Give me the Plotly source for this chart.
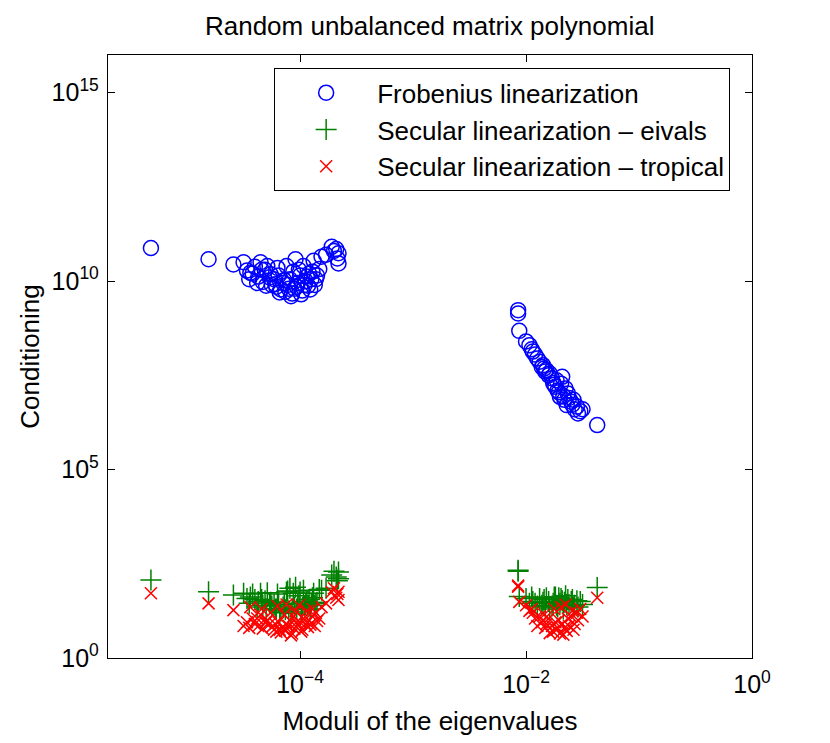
import plotly.graph_objects as go

# log10 of eigenvalue moduli (shared by the three series)
log_moduli = [
    # small eigenvalues
    -5.32, -4.81, -4.59, -4.50, -4.47, -4.45, -4.42, -4.40, -4.37, -4.35,
    -4.33, -4.31, -4.29, -4.27, -4.25, -4.23, -4.21, -4.19, -4.17, -4.15,
    -4.13, -4.11, -4.09, -4.07, -4.06, -4.05, -4.04, -4.02, -4.00, -3.98,
    -3.97, -3.95, -3.93, -3.92, -3.90, -3.88, -3.87, -3.85, -3.83, -3.81,
    -3.77, -3.72, -3.70, -3.68, -3.66, -3.66, -3.67,
    -4.44, -4.38, -4.34, -4.30, -4.26, -4.22, -4.18, -4.14, -4.10, -4.08,
    -4.03, -4.01, -3.99, -3.96, -3.94, -3.91, -3.89, -3.86, -4.20, -4.12,
    # larger eigenvalues
    -2.07, -2.07, -2.06, -1.95, -1.94, -1.92, -1.88, -1.86, -1.85, -1.83,
    -1.82, -1.80, -1.77, -1.76, -1.74, -1.73, -1.71, -1.70, -1.68, -1.66,
    -1.64, -1.63, -1.60, -1.57, -1.55, -1.54, -1.37,
    -2.00, -1.97, -1.90, -1.84, -1.79, -1.75, -1.72, -1.69, -1.67, -1.65,
    -1.62, -1.59, -1.58, -1.52, -1.50,
]

# log10 of the conditioning numbers
log_cond_frobenius = [
    10.88, 10.58, 10.44, 10.50, 10.28, 10.05, 10.20, 10.38, 10.12, 10.50,
    9.98, 10.30, 10.40, 10.10, 9.90, 10.05, 9.85, 10.15, 9.78, 9.95,
    9.72, 9.90, 10.05, 9.67, 10.25, 9.80, 10.58, 9.95, 10.15, 9.75,
    10.40, 10.00, 9.88, 10.20, 10.05, 10.54, 9.90, 10.15, 10.32, 10.65,
    10.70, 10.91, 10.80, 10.85, 10.74, 10.47, 10.60,
    10.22, 9.95, 10.30, 9.88, 10.18, 9.92, 9.70, 10.02, 9.80, 9.60,
    9.85, 10.30, 9.65, 9.90, 10.12, 9.78, 10.25, 10.05, 10.35, 10.40,
    9.23, 9.14, 8.68, 8.19, 8.13, 8.05, 7.86, 7.72, 7.77, 7.60,
    7.64, 7.50, 7.42, 7.30, 7.20, 7.37, 7.05, 6.93, 7.46, 6.85,
    6.71, 7.02, 6.80, 6.60, 6.67, 6.49, 6.18,
    8.40, 8.30, 7.95, 7.68, 7.55, 7.25, 7.10, 7.28, 6.95, 7.15,
    6.90, 6.72, 6.85, 6.55, 6.60,
]

log_cond_eivals = [
    2.07, 1.76, 1.67, 1.72, 1.58, 1.45, 1.70, 1.55, 1.50, 1.72,
    1.40, 1.52, 1.73, 1.45, 1.38, 1.42, 1.30, 1.48, 1.25, 1.35,
    1.28, 1.78, 1.85, 1.30, 1.72, 1.35, 1.88, 1.45, 1.75, 1.32,
    1.80, 1.42, 1.38, 1.55, 1.45, 1.72, 1.40, 1.48, 1.82, 1.80,
    1.85, 2.20, 2.30, 2.15, 2.28, 2.10, 2.05,
    1.62, 1.35, 1.55, 1.30, 1.48, 1.30, 1.20, 1.42, 1.25, 1.18,
    1.30, 1.65, 1.22, 1.38, 1.50, 1.30, 1.60, 1.45, 1.70, 1.75,
    2.33, 2.30, 1.63, 1.62, 1.50, 1.45, 1.58, 1.40, 1.48, 1.35,
    1.60, 1.50, 1.38, 1.45, 1.62, 1.40, 1.60, 1.45, 1.52, 1.48,
    1.42, 1.55, 1.50, 1.40, 1.52, 1.35, 1.87,
    1.58, 1.45, 1.38, 1.55, 1.30, 1.62, 1.35, 1.58, 1.30, 1.65,
    1.42, 1.55, 1.35, 1.50, 1.42,
]

log_cond_tropical = [
    1.72, 1.45, 1.27, 0.85, 0.95, 0.80, 1.05, 0.90, 0.85, 1.15,
    0.78, 0.95, 1.00, 0.90, 0.82, 0.75, 0.70, 0.95, 0.68, 0.80,
    0.72, 0.85, 1.00, 0.65, 1.10, 0.78, 1.25, 0.88, 0.95, 0.75,
    1.05, 0.90, 0.82, 1.00, 0.92, 1.15, 0.85, 0.98, 1.05, 1.35,
    1.45, 1.75, 1.85, 1.60, 1.76, 1.54, 1.70,
    1.35, 1.05, 1.30, 0.95, 1.20, 0.90, 0.75, 1.15, 0.85, 0.60,
    0.95, 1.40, 0.70, 1.00, 1.25, 0.88, 1.30, 1.20, 1.38, 1.42,
    1.89, 1.92, 1.49, 1.30, 1.20, 1.05, 1.10, 0.95, 1.00, 0.80,
    0.90, 1.05, 0.85, 0.70, 0.95, 0.75, 1.00, 0.65, 0.90, 0.80,
    0.72, 1.05, 1.10, 0.90, 1.20, 1.00, 1.60,
    1.40, 1.25, 0.85, 1.15, 0.66, 1.30, 0.80, 1.35, 0.62, 1.42,
    0.85, 1.25, 0.75, 1.30, 1.10,
]

x_tickvals = [1e-4, 1e-2, 1]
x_ticktext = ["10<sup>\u22124</sup>", "10<sup>\u22122</sup>", "10<sup>0</sup>"]
y_tickvals = [1, 1e5, 1e10, 1e15]
y_ticktext = ["10<sup>0</sup>", "10<sup>5</sup>", "10<sup>10</sup>", "10<sup>15</sup>"]

moduli = [10 ** v for v in log_moduli]
cond_frobenius = [10 ** v for v in log_cond_frobenius]
cond_eivals = [10 ** v for v in log_cond_eivals]
cond_tropical = [10 ** v for v in log_cond_tropical]

FONT = "Liberation Sans, Arial, Helvetica, sans-serif"

fig = go.Figure()
fig.add_trace(go.Scatter(
    x=moduli, y=cond_frobenius, mode="markers", name="Frobenius linearization",
    marker=dict(symbol="circle-open", size=15, color="#0000ff",
                line=dict(width=1.5, color="#0000ff")),
))
fig.add_trace(go.Scatter(
    x=moduli, y=cond_eivals, mode="markers", name="Secular linearization – eivals",
    marker=dict(symbol="cross-thin-open", size=15, color="#008000",
                line=dict(width=1.5, color="#008000")),
))
fig.add_trace(go.Scatter(
    x=moduli, y=cond_tropical, mode="markers", name="Secular linearization – tropical",
    marker=dict(symbol="x-thin-open", size=12, color="#ff0000",
                line=dict(width=1.5, color="#ff0000")),
))

axis_style = dict(
    showline=True, linecolor="black", linewidth=1.3, mirror="ticks",
    ticks="inside", ticklen=7, tickwidth=1.3, tickcolor="black",
    showgrid=False, zeroline=False, tickfont=dict(size=25, color="black"),
)

# the page has an 8px body margin, so the figure is a little smaller than the window
fig.update_layout(
    width=822, height=735,
    margin=dict(l=100, r=78, t=47, b=85),
    paper_bgcolor="white", plot_bgcolor="white",
    font=dict(family=FONT, size=26, color="black"),
    title=dict(text="Random unbalanced matrix polynomial", x=0.513, xanchor="center",
               y=0.975, yanchor="middle", font=dict(size=26)),
    xaxis=dict(type="log", range=[-5.7, 0], tickvals=x_tickvals, ticktext=x_ticktext,
               ticklabelstandoff=4,
               title=dict(text="Moduli of the eigenvalues", standoff=14, font=dict(size=26)),
               **axis_style),
    yaxis=dict(type="log", range=[0, 16], tickvals=y_tickvals, ticktext=y_ticktext,
               ticklabelstandoff=3,
               title=dict(text="Conditioning", standoff=4, font=dict(size=26)),
               **axis_style),
    legend=dict(x=0.258, y=0.978, xanchor="left", yanchor="top",
                bordercolor="black", borderwidth=1, bgcolor="white",
                itemwidth=92, font=dict(size=26)),
    showlegend=True,
)

fig.write_html("out.html")
